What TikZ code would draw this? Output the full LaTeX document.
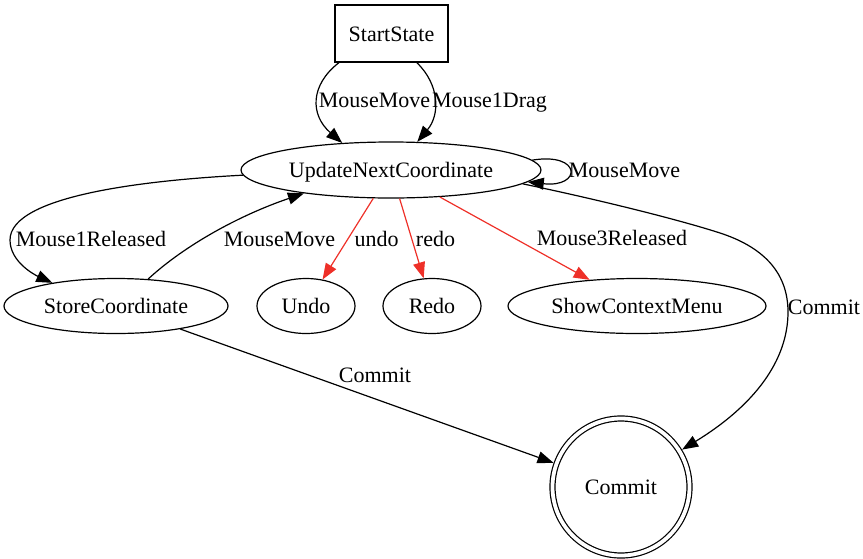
\documentclass[tikz,border=0pt]{standalone}
\usepackage{fontspec}
\setmainfont{Liberation Serif}
\usetikzlibrary{shapes.geometric,arrows.meta}
\definecolor{edgered}{RGB}{238,48,40}
\tikzset{
  every node/.style={font=\fontsize{22}{26}\selectfont, text height=15pt, text depth=0pt, inner sep=0pt},
  st/.style={draw, line width=1.2pt, ellipse, minimum height=55pt},
  boxst/.style={draw, line width=1.2pt, rectangle, minimum width=113pt, minimum height=57pt},
  finalst/.style={draw, line width=1.2pt, circle, double, double distance=3.8pt, minimum size=137pt, outer sep=3.2pt},
  edge/.style={line width=1.2pt, -{Triangle[length=16pt,width=12pt]}},
  rededge/.style={edge, draw=edgered, -{Triangle[length=16pt,width=12pt,fill=edgered,color=edgered]}},
  lbl/.style={}
}
\begin{document}
\begin{tikzpicture}[x=1pt,y=-1pt]
\useasboundingbox (0,0) rectangle (863,558);
% nodes
\node[boxst] (start) at (391.5,33.5) {StartState};
\node[st, minimum width=300pt, minimum height=56pt] (update) at (391,170) {UpdateNextCoordinate};
\node[st, minimum width=224pt] (store) at (116,306) {StoreCoordinate};
\node[st, minimum width=98pt] (undo) at (306,306) {Undo};
\node[st, minimum width=98pt] (redo) at (432,306) {Redo};
\node[st, minimum width=258pt] (menu) at (637,306) {ShowContextMenu};
\node[finalst] (commit) at (621,487) {Commit};
% edges
\draw[edge] (start.209) .. controls (310,85) and (310,115) .. (update.151);
\draw[edge] (start.-49) .. controls (440,85) and (440,115) .. (update.47);
\draw[edge] (update.4) .. controls (582,152) and (582,188) .. (update.-5);
\draw[edge] (update.182) .. controls (150,180) and (10,195) .. (10,240)
  .. controls (10,262) and (35,275) .. (store.160);
\draw[edge] (store.40) .. controls (185,245) and (240,215) .. (update.195);
\draw[rededge] (update) -- (undo);
\draw[rededge] (update) -- (redo);
\draw[rededge] (update) -- (menu);
\draw[edge] (update.-6.5) .. controls (600,200) and (680,220) .. (720,233)
  .. controls (760,246) and (788,270) .. (788,312)
  .. controls (788,360) and (755,405) .. (commit);
\draw[edge] (store) -- (commit);
% labels
\node[lbl] (l1) at (374.5,100) {MouseMove};
\node[lbl] (l2) at (489.5,100) {Mouse1Drag};
\node[lbl] (l3) at (624.5,170) {MouseMove};
\node[lbl] (l4) at (91,239) {Mouse1Released};
\node[lbl] (l5) at (279.5,239) {MouseMove};
\node[lbl] (l6) at (376.5,239) {undo};
\node[lbl] (l7) at (435.5,239) {redo};
\node[lbl] (l8) at (612,238) {Mouse3Released};
\node[lbl] (l9) at (824,307) {Commit};
\node[lbl] (l10) at (375,375) {Commit};
\end{tikzpicture}
\end{document}
